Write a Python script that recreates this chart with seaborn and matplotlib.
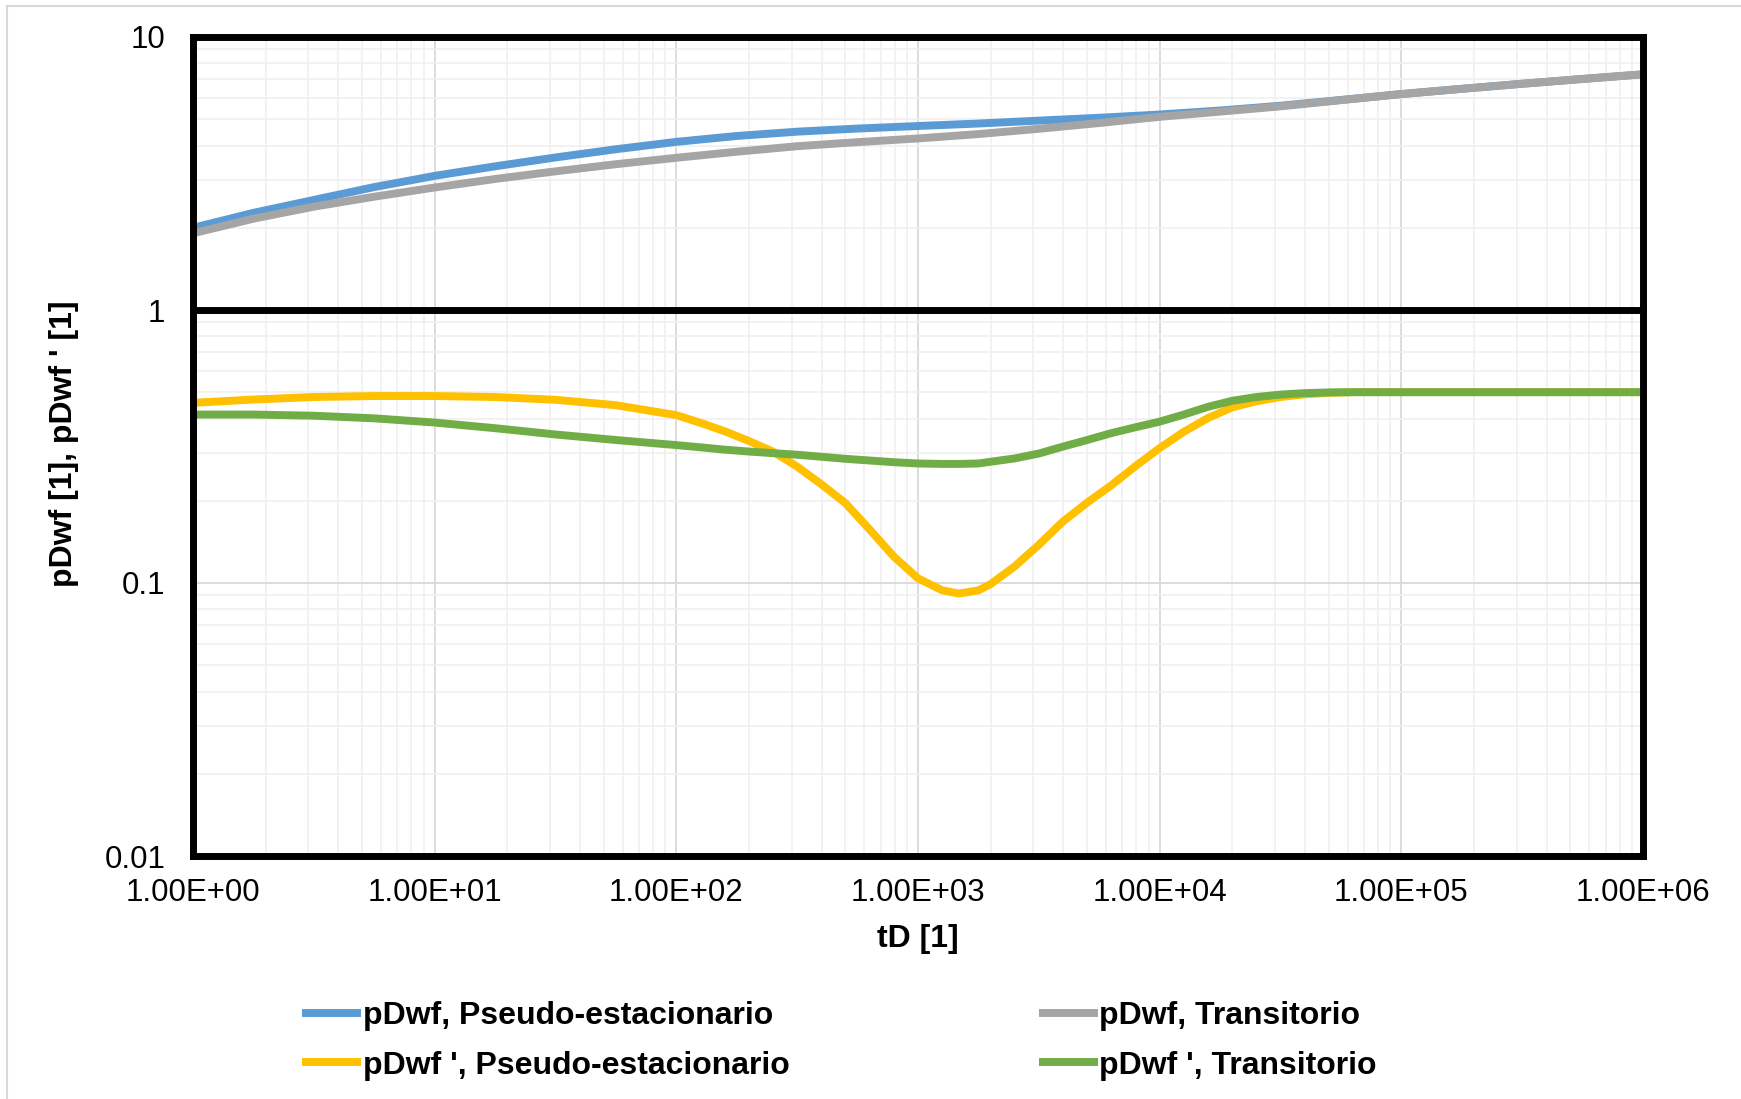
import numpy as np
import pandas as pd
import seaborn as sns
import matplotlib
matplotlib.use("Agg")
import matplotlib.pyplot as plt
from matplotlib.ticker import LogLocator, FuncFormatter, NullFormatter
from matplotlib.patches import Rectangle

# Dimensionless pressure pDwf vs dimensionless time tD
td_p = [1, 1.78, 3.16, 5.62, 10, 17.8, 31.6, 56.2, 100, 178, 316, 562,
        1000, 1780, 3160, 5620, 10000, 17800, 31600, 56200, 100000,
        178000, 316000, 562000, 1000000]
pdwf_pss = [2.00, 2.27, 2.53, 2.82, 3.10, 3.36, 3.62, 3.88, 4.13, 4.34, 4.50, 4.62,
            4.72, 4.82, 4.94, 5.06, 5.20, 5.38, 5.60, 5.88, 6.18,
            6.46, 6.74, 7.02, 7.30]
pdwf_tr = [1.91, 2.16, 2.39, 2.60, 2.81, 3.02, 3.22, 3.42, 3.61, 3.80, 3.98, 4.12,
           4.25, 4.41, 4.61, 4.84, 5.10, 5.33, 5.57, 5.87, 6.18,
           6.46, 6.74, 7.02, 7.30]

# Pressure derivative pDwf '
td_d = [1, 1.78, 3.16, 5.62, 10, 17.8, 31.6, 56.2, 100, 126, 158, 200, 251,
        316, 398, 501, 631, 794, 1000, 1259, 1479, 1778, 1995, 2512, 3162,
        3981, 5012, 6310, 7943, 10000, 12589, 15849, 19953, 25119, 31623,
        39811, 50119, 63096, 100000, 1000000]
dpdwf_pss = [0.457, 0.470, 0.480, 0.484, 0.484, 0.480, 0.469, 0.448, 0.412, 0.386,
             0.360, 0.331, 0.303, 0.267, 0.230, 0.196, 0.157, 0.125, 0.104, 0.094,
             0.0915, 0.094, 0.099, 0.115, 0.138, 0.168, 0.197, 0.228, 0.268, 0.312,
             0.358, 0.402, 0.440, 0.463, 0.480, 0.491, 0.497, 0.500, 0.500, 0.500]
dpdwf_tr = [0.414, 0.414, 0.410, 0.401, 0.387, 0.369, 0.350, 0.334, 0.320, 0.314,
            0.308, 0.303, 0.299, 0.295, 0.290, 0.285, 0.281, 0.277, 0.274, 0.273,
            0.273, 0.274, 0.278, 0.286, 0.298, 0.316, 0.334, 0.354, 0.372, 0.390,
            0.414, 0.442, 0.465, 0.480, 0.490, 0.496, 0.499, 0.500, 0.500, 0.500]

x_ticks = [1e0, 1e1, 1e2, 1e3, 1e4, 1e5, 1e6]
y_ticks = [0.01, 0.1, 1, 10]

series = [
    ("pDwf, Pseudo-estacionario", td_p, pdwf_pss, "#5B9BD5"),
    ("pDwf, Transitorio", td_p, pdwf_tr, "#A5A5A5"),
    ("pDwf ', Pseudo-estacionario", td_d, dpdwf_pss, "#FFC000"),
    ("pDwf ', Transitorio", td_d, dpdwf_tr, "#70AD47"),
]

sns.set_style("white")
plt.rcParams["font.family"] = ["Liberation Sans", "DejaVu Sans"]
plt.rcParams["text.color"] = "black"

W, H = 1741, 1099
fig = plt.figure(figsize=(W / 100, H / 100), dpi=100)
L, R, T, B = 193, 1643, 37, 856
ax = fig.add_axes([L / W, 1 - B / H, (R - L) / W, (B - T) / H])

ax.set_xscale("log")
ax.set_yscale("log")
ax.set_xlim(1, 1e6)
ax.set_ylim(0.01, 10)

# Grid: light major lines, fainter minor lines
ax.xaxis.set_minor_locator(LogLocator(base=10, subs=np.arange(2, 10)))
ax.yaxis.set_minor_locator(LogLocator(base=10, subs=np.arange(2, 10)))
ax.xaxis.set_minor_formatter(NullFormatter())
ax.yaxis.set_minor_formatter(NullFormatter())
ax.grid(which="minor", color="#f0f0f0", lw=1.2, zorder=0)
ax.grid(which="major", color="#d9d9d9", lw=1.3, zorder=0)
ax.set_axisbelow(True)

handles = []
for name, xs, ys, col in series:
    df = pd.DataFrame({"tD": xs, "p": ys})
    sns.lineplot(data=df, x="tD", y="p", ax=ax, color=col, lw=5.7,
                 label=name, legend=False, solid_capstyle="butt",
                 solid_joinstyle="round")
    handles.append(ax.lines[-1])

# Heavy line at unity
ax.axhline(1, color="black", lw=5, zorder=3)

for s in ax.spines.values():
    s.set_color("black")
    s.set_linewidth(5)
    s.set_zorder(4)

ax.set_xticks(x_ticks)
ax.set_yticks(y_ticks)
ax.xaxis.set_major_formatter(FuncFormatter(lambda v, p: f"{v:.2E}"))
ax.yaxis.set_major_formatter(FuncFormatter(lambda v, p: f"{v:g}"))
ax.tick_params(axis="both", which="both", length=0, labelsize=22.5, colors="black")
ax.tick_params(axis="x", pad=16)
ax.tick_params(axis="y", pad=20)
ax.set_xlabel("")
ax.set_ylabel("")

fig.text(918 / W, 1 - 939 / H, "tD [1]", ha="center", va="center",
         fontsize=23, fontweight="bold")
fig.text(64 / W, 1 - 444 / H, "pDwf [1], pDwf ' [1]", ha="center", va="center",
         rotation=90, fontsize=23, fontweight="bold")

order = [handles[0], handles[2], handles[1], handles[3]]
labels = [h.get_label() for h in order]
fig.legend(order, labels, loc="center left",
           bbox_to_anchor=(302 / W, 1 - 1041 / H), ncol=2, frameon=False,
           prop={"weight": "bold", "size": 23}, handlelength=1.85,
           handletextpad=0.05, columnspacing=7.8, labelspacing=0.6,
           borderpad=0, borderaxespad=0)

# Thin chart-area border
fig.add_artist(Rectangle((7 / W, -0.1), 1.2, 1 - 6 / H + 0.1,
                         transform=fig.transFigure, fill=False,
                         ec="#d9d9d9", lw=1.5))

fig.savefig("out.png", dpi=100)
